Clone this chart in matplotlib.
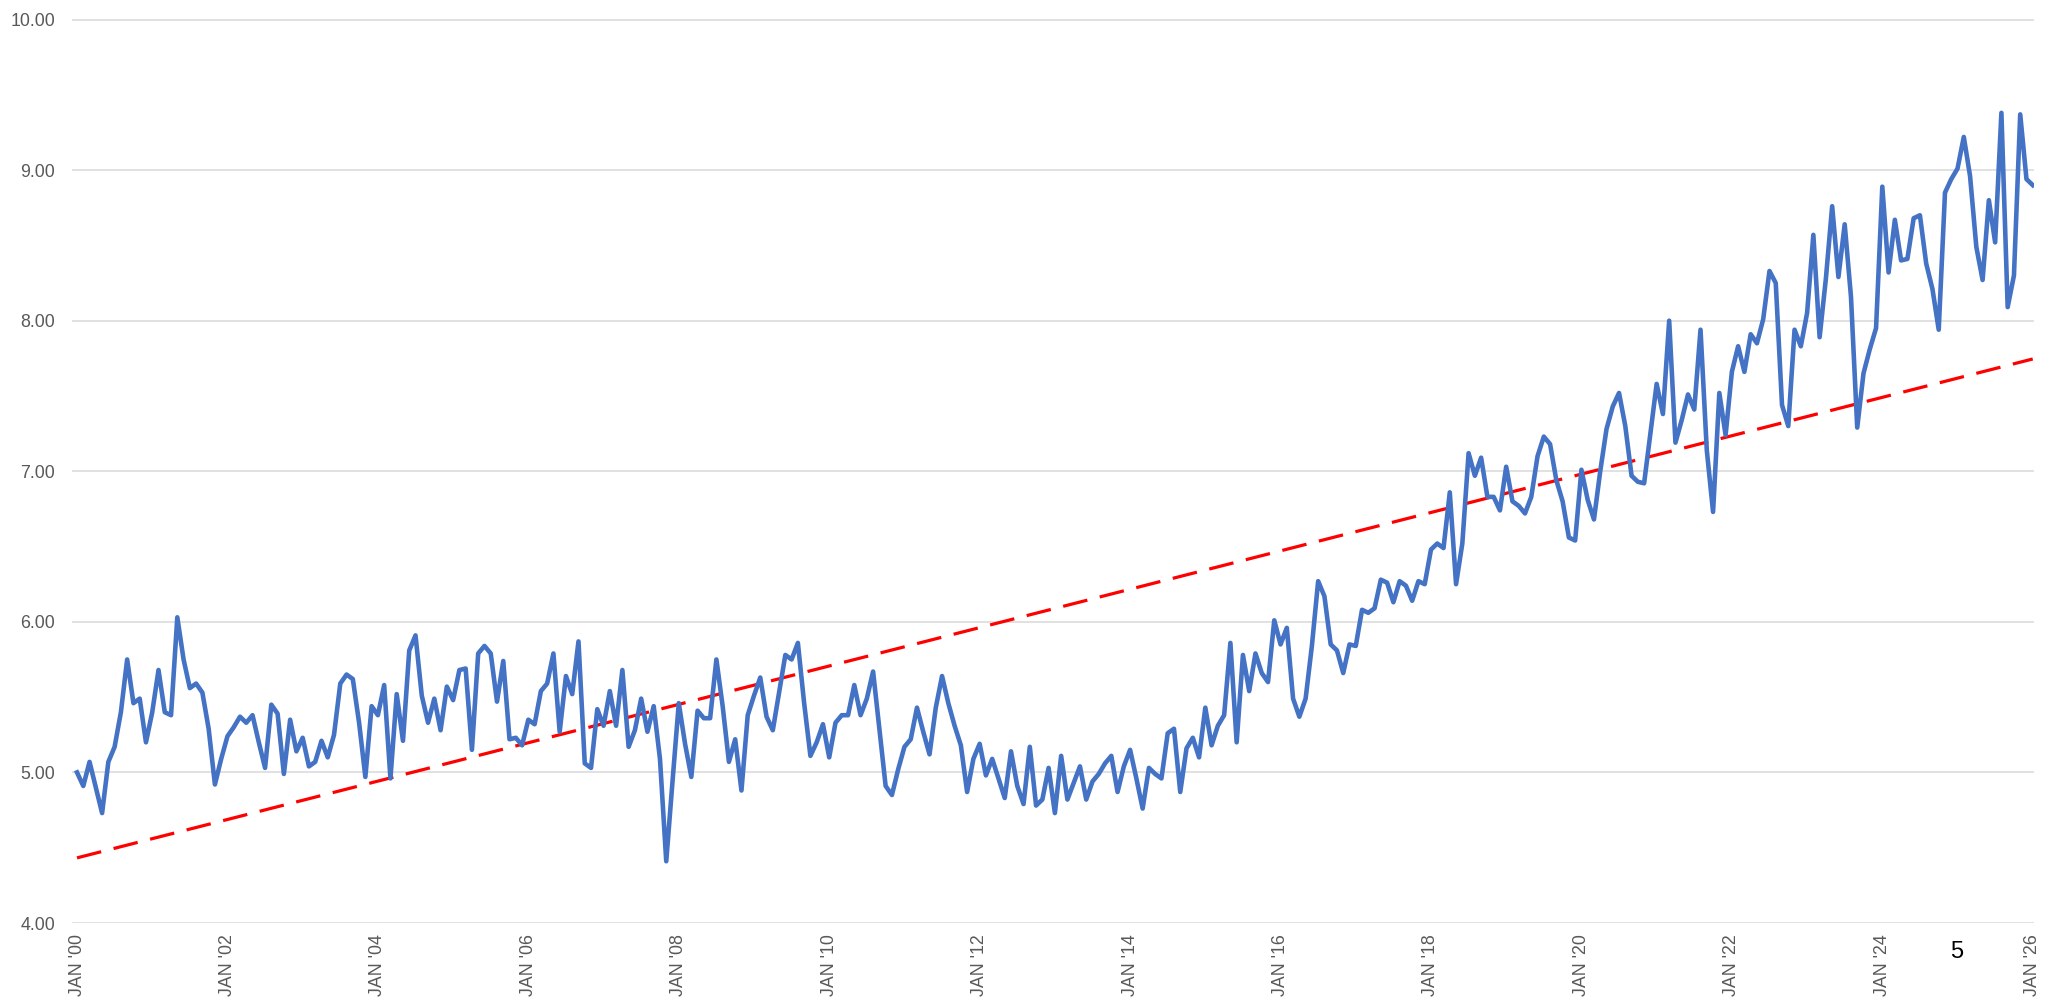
import numpy as np
import pandas as pd
import matplotlib
matplotlib.use("Agg")
from matplotlib import pyplot as plt

# monthly values, Jan 2000 .. Jan 2026
values = [
    5.00, 4.91, 5.07, 4.90, 4.73, 5.07, 5.17, 5.40, 5.75, 5.46, 5.49, 5.20,   # 2000
    5.40, 5.68, 5.40, 5.38, 6.03, 5.75, 5.56, 5.59, 5.53, 5.29, 4.92, 5.09,   # 2001
    5.24, 5.30, 5.37, 5.33, 5.38, 5.20, 5.03, 5.45, 5.39, 4.99, 5.35, 5.14,   # 2002
    5.23, 5.04, 5.07, 5.21, 5.10, 5.25, 5.59, 5.65, 5.62, 5.33, 4.97, 5.44,   # 2003
    5.38, 5.58, 4.96, 5.52, 5.21, 5.81, 5.91, 5.51, 5.33, 5.49, 5.28, 5.57,   # 2004
    5.48, 5.68, 5.69, 5.15, 5.79, 5.84, 5.79, 5.47, 5.74, 5.22, 5.23, 5.18,   # 2005
    5.35, 5.32, 5.54, 5.59, 5.79, 5.27, 5.64, 5.52, 5.87, 5.06, 5.03, 5.42,   # 2006
    5.31, 5.54, 5.31, 5.68, 5.17, 5.28, 5.49, 5.27, 5.44, 5.09, 4.41, 4.94,   # 2007
    5.46, 5.19, 4.97, 5.41, 5.36, 5.36, 5.75, 5.44, 5.07, 5.22, 4.88, 5.38,   # 2008
    5.51, 5.63, 5.37, 5.28, 5.53, 5.78, 5.75, 5.86, 5.46, 5.11, 5.20, 5.32,   # 2009
    5.10, 5.33, 5.38, 5.38, 5.58, 5.38, 5.49, 5.67, 5.29, 4.91, 4.85, 5.02,   # 2010
    5.17, 5.22, 5.43, 5.27, 5.12, 5.43, 5.64, 5.46, 5.31, 5.18, 4.87, 5.09,   # 2011
    5.19, 4.98, 5.09, 4.96, 4.83, 5.14, 4.91, 4.79, 5.17, 4.78, 4.82, 5.03,   # 2012
    4.73, 5.11, 4.82, 4.93, 5.04, 4.82, 4.94, 4.99, 5.06, 5.11, 4.87, 5.04,   # 2013
    5.15, 4.96, 4.76, 5.03, 4.99, 4.96, 5.26, 5.29, 4.87, 5.16, 5.23, 5.10,   # 2014
    5.43, 5.18, 5.31, 5.38, 5.86, 5.20, 5.78, 5.54, 5.79, 5.66, 5.60, 6.01,   # 2015
    5.85, 5.96, 5.49, 5.37, 5.49, 5.84, 6.27, 6.17, 5.85, 5.81, 5.66, 5.85,   # 2016
    5.84, 6.08, 6.06, 6.09, 6.28, 6.26, 6.13, 6.27, 6.24, 6.14, 6.27, 6.25,   # 2017
    6.48, 6.52, 6.49, 6.86, 6.25, 6.52, 7.12, 6.97, 7.09, 6.83, 6.83, 6.74,   # 2018
    7.03, 6.80, 6.77, 6.72, 6.83, 7.10, 7.23, 7.18, 6.94, 6.80, 6.56, 6.54,   # 2019
    7.01, 6.81, 6.68, 7.00, 7.28, 7.43, 7.52, 7.30, 6.97, 6.93, 6.92, 7.25,   # 2020
    7.58, 7.38, 8.00, 7.19, 7.34, 7.51, 7.41, 7.94, 7.14, 6.73, 7.52, 7.24,   # 2021
    7.66, 7.83, 7.66, 7.91, 7.85, 8.01, 8.33, 8.25, 7.44, 7.30, 7.94, 7.83,   # 2022
    8.05, 8.57, 7.89, 8.28, 8.76, 8.29, 8.64, 8.16, 7.29, 7.65, 7.81, 7.95,   # 2023
    8.89, 8.32, 8.67, 8.40, 8.41, 8.68, 8.70, 8.38, 8.21, 7.94, 8.85, 8.94,   # 2024
    9.01, 9.22, 8.96, 8.49, 8.27, 8.80, 8.52, 9.38, 8.09, 8.30, 9.37, 8.94,   # 2025
    8.90,                                                                     # 2026
]

months = pd.date_range("2000-01-01", periods=len(values), freq="MS")
tick_years = list(range(2000, 2027, 2))
tick_labels = ["JAN '%02d" % (y % 100) for y in tick_years]
y_ticks = [4, 5, 6, 7, 8, 9, 10]

plt.rcParams['font.family'] = ['Liberation Sans', 'DejaVu Sans']

W, H = 2045, 997
fig = plt.figure(figsize=(W / 100, H / 100), dpi=100)
ax = fig.add_axes([72 / W, 1 - 923 / H, (2034 - 72) / W, (923 - 19.5) / H])

x = np.arange(len(values))
y = np.array(values)

ax.plot(x, y, color='#4472C4', lw=3.3, solid_joinstyle='round', zorder=3)

# linear trend
k, b = np.polyfit(x, y, 1)
ax.plot(x, k * x + b, color='#FF0000', lw=2.3, dashes=(7.8, 4.0), zorder=2)

ax.set_ylim(4, 10)
ax.set_xlim(-0.8, len(values) - 1 + 0.2)
ax.set_yticks(y_ticks)
ax.set_yticklabels(["%.2f" % v for v in y_ticks])
tick_pos = [months.get_loc(pd.Timestamp(yr, 1, 1)) for yr in tick_years]
ax.set_xticks(tick_pos)
ax.set_xticklabels(tick_labels, rotation=90, va='top', ha='center')

ax.grid(axis='y', color='#D9D9D9', lw=1.1, zorder=0)
ax.grid(axis='x', visible=False)
for s in ax.spines.values():
    s.set_visible(False)
ax.tick_params(axis='both', length=0, labelsize=12.8, labelcolor='#595959')
ax.tick_params(axis='y', pad=12)
ax.tick_params(axis='x', pad=8)

fig.text(1957 / W, 1 - 952 / H, "5", fontsize=17, color='black',
         ha='center', va='center', family=['Liberation Sans Narrow', 'Liberation Sans'])

fig.savefig("out.png", dpi=100)
